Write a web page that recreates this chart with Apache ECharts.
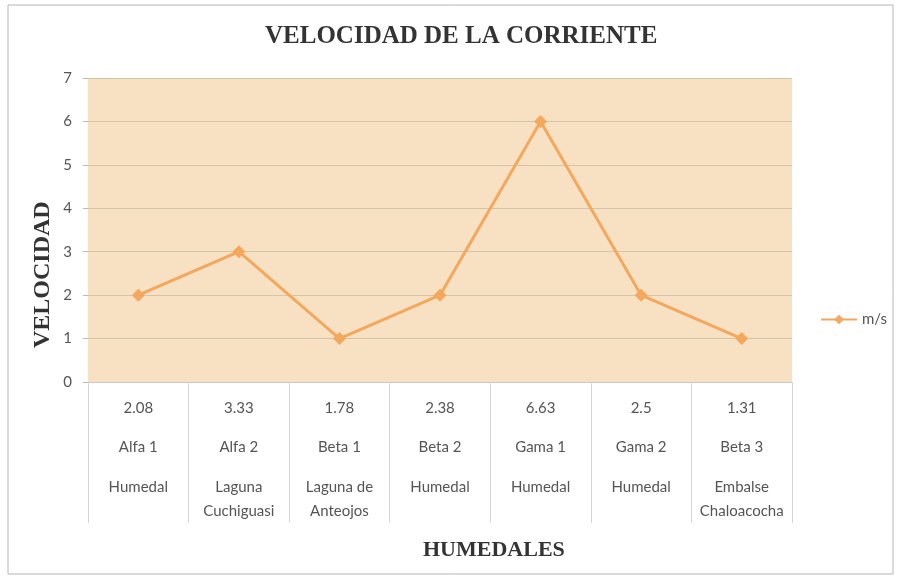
<!DOCTYPE html>
<html>
<head>
<meta charset="utf-8">
<script src="https://cdn.jsdelivr.net/npm/echarts@6/dist/echarts.min.js"></script>
<style>
  html, body { margin: 0; padding: 0; background: #fff; }
  #main { width: 898px; height: 577px; }
</style>
</head>
<body>
<div id="main"></div>
<script>
// datos
var sitios = ['Alfa 1', 'Alfa 2', 'Beta 1', 'Beta 2', 'Gama 1', 'Gama 2', 'Beta 3'];
var tipos = ['Humedal', 'Laguna\nCuchiguasi', 'Laguna de\nAnteojos', 'Humedal', 'Humedal', 'Humedal', 'Embalse\nChaloacocha'];
var valoresTabla = ['2.08', '3.33', '1.78', '2.38', '6.63', '2.5', '1.31'];
var velocidad = [2, 3, 1, 2, 6, 2, 1];  // puntos tal como se ven en la linea

var myChart = echarts.init(document.getElementById('main'));

var labelFont = 'Lato, "Open Sans", sans-serif';
var serifFont = '"Liberation Serif", "DejaVu Serif", serif';

var option = {
    backgroundColor: '#fff',
    animation: false,
    grid: {
        left: 88,
        right: 106,
        top: 78,
        bottom: 195,
        show: true,
        backgroundColor: '#f7e1c2',
        borderWidth: 0
    },
    legend: {
        left: 815,
        top: 307,
        itemWidth: 36,
        itemHeight: 12,
        itemGap: 8,
        textStyle: { color: '#555', fontSize: 15, fontFamily: labelFont },
        data: ['m/s']
    },
    graphic: [
        {
            type: 'rect',
            shape: { x: 8, y: 5, width: 885, height: 569 },
            style: { fill: 'none', stroke: '#b5b5b5', lineWidth: 1 },
            silent: true
        },
        {
            type: 'text',
            left: 265,
            top: 24,
            style: {
                text: 'VELOCIDAD DE LA CORRIENTE',
                font: 'bold 25px ' + serifFont,
                fill: '#333'
            }
        },
        {
            type: 'text',
            left: 423,
            top: 539,
            style: {
                text: 'HUMEDALES',
                font: 'bold 22px ' + serifFont,
                fill: '#333'
            }
        },
        {
            type: 'text',
            x: 31,
            y: 348,
            rotation: Math.PI / 2,
            style: {
                text: 'VELOCIDAD',
                font: 'bold 24px ' + serifFont,
                fill: '#333'
            }
        }
    ],
    xAxis: {
        type: 'category',
        data: sitios,
        boundaryGap: true,
        axisLine: { lineStyle: { color: '#c8c8c8' } },
        axisTick: { show: true, length: 141, lineStyle: { color: '#d6d6d6' } },
        axisLabel: {
            margin: 15,
            interval: 0,
            color: '#555',
            fontSize: 15,
            fontFamily: labelFont,
            formatter: function (v, i) {
                var t = tipos[i].split('\n').map(function (s) { return '{t|' + s + '}'; }).join('\n');
                return '{v|' + valoresTabla[i] + '}\n{n|' + v + '}\n' + t;
            },
            rich: {
                v: { lineHeight: 22, fontSize: 15, color: '#555', fontFamily: labelFont },
                n: { lineHeight: 56, fontSize: 15, color: '#555', fontFamily: labelFont },
                t: { lineHeight: 24, fontSize: 15, color: '#555', fontFamily: labelFont }
            }
        }
    },
    yAxis: {
        type: 'value',
        min: 0,
        max: 7,
        interval: 1,
        axisLine: { show: false },
        axisTick: { show: true, length: 5, lineStyle: { color: '#c8b9a2' } },
        axisLabel: { color: '#555', fontSize: 15, fontFamily: labelFont, margin: 16 },
        splitLine: { lineStyle: { color: '#d3c4ac', width: 1 } }
    },
    series: [
        {
            name: 'm/s',
            type: 'line',
            data: velocidad,
            symbol: 'diamond',
            symbolSize: 13,
            lineStyle: { color: '#f3a85e', width: 3 },
            itemStyle: { color: '#f3a85e' }
        }
    ]
};

myChart.setOption(option);
</script>
</body>
</html>
